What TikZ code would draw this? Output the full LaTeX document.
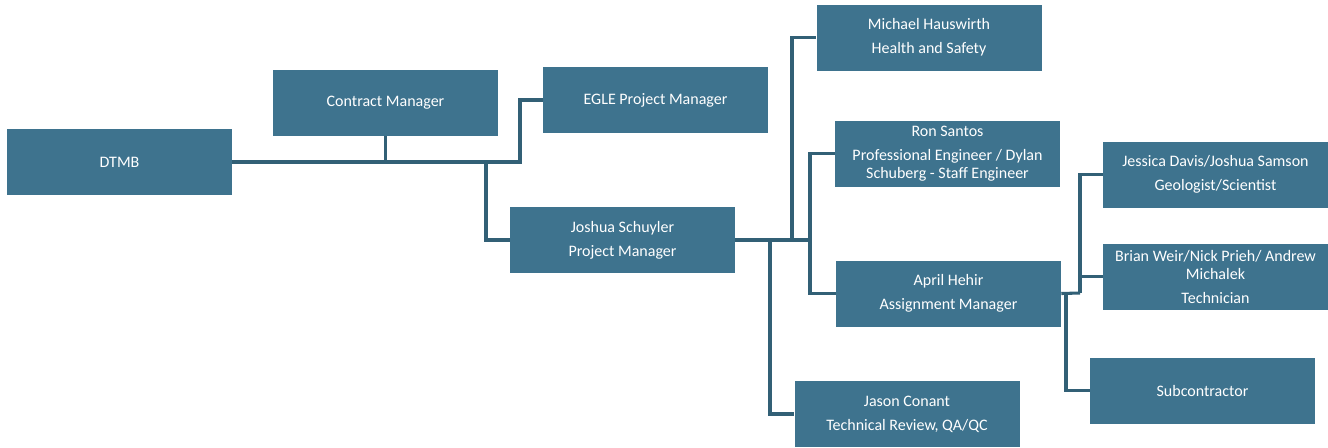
\documentclass[tikz,border=0pt]{standalone}
\usepackage{fontspec}
\setmainfont{Carlito}
\usepackage{xcolor}
\definecolor{boxteal}{RGB}{62,115,142}
\definecolor{linkteal}{RGB}{50,96,118}

\tikzset{
  orgbox/.style={rectangle,fill=boxteal,text=white,align=center,
    minimum width=168.75pt,minimum height=49.5pt,inner sep=0pt,
    font=\fontsize{12}{13.5}\selectfont},
  link/.style={draw=linkteal,line width=2.3pt}
}

\begin{document}
\begin{tikzpicture}[x=0.75pt,y=-0.75pt]
    \useasboundingbox (0,0) rectangle (1328,447);

    %boxes
    \node[orgbox] (dtmb) at (119.5,162) {DTMB};
    \node[orgbox] (contract) at (385.5,103) {Contract Manager};
    \node[orgbox] (egle) at (655.5,100) {EGLE Project Manager};
    \node[orgbox] (pm) at (622.5,240) {Joshua Schuyler\\[4.5pt]Project Manager};
    \node[orgbox] (safety) at (929,37.5) {Michael Hauswirth\\[4.5pt]Health and Safety};
    \node[orgbox] (engineer) at (947.5,153.5) {Ron Santos\\[4.5pt]Professional Engineer / Dylan\\Schuberg - Staff Engineer};
    \node[orgbox] (assign) at (948.5,293.5) {April Hehir\\[4.5pt]Assignment Manager};
    \node[orgbox] (review) at (907,414) {Jason Conant\\[4.5pt]Technical Review, QA/QC};
    \node[orgbox] (geo) at (1215.5,174.5) {Jessica Davis/Joshua Samson\\[4.5pt]Geologist/Scientist};
    \node[orgbox] (tech) at (1215.5,276.5) {Brian Weir/Nick Prieh/ Andrew\\Michalek\\[4.5pt]Technician};
    \node[orgbox] (sub) at (1202.5,390.5) {Subcontractor};

    %joints
    \coordinate (j1) at (486,162);
    \coordinate (j2) at (520,162);
    \coordinate (k1) at (770,240);
    \coordinate (k2) at (792,240);
    \coordinate (k3) at (810,240);
    \coordinate (m1) at (1066,293);
    \coordinate (m2) at (1080,293);

    %connectors
    \draw[link] (dtmb.east) -- (j2) |- (egle.west);
    \draw[link] (contract.south) -- (contract.south |- j1);
    \draw[link] (j1) |- (pm.west);
    \draw[link] (pm.east) -- (k3);
    \draw[link] (k2) |- (safety.west);
    \draw[link] (engineer.west) -| (k3) |- (assign.west);
    \draw[link] (k1) |- (review.west);
    \draw[link] (assign.east) -- (m2);
    \draw[link] (geo.west) -| (m2);
    \draw[link] (tech.west) -| (m2);
    \draw[link] (m1) |- (sub.west);
\end{tikzpicture}
\end{document}
